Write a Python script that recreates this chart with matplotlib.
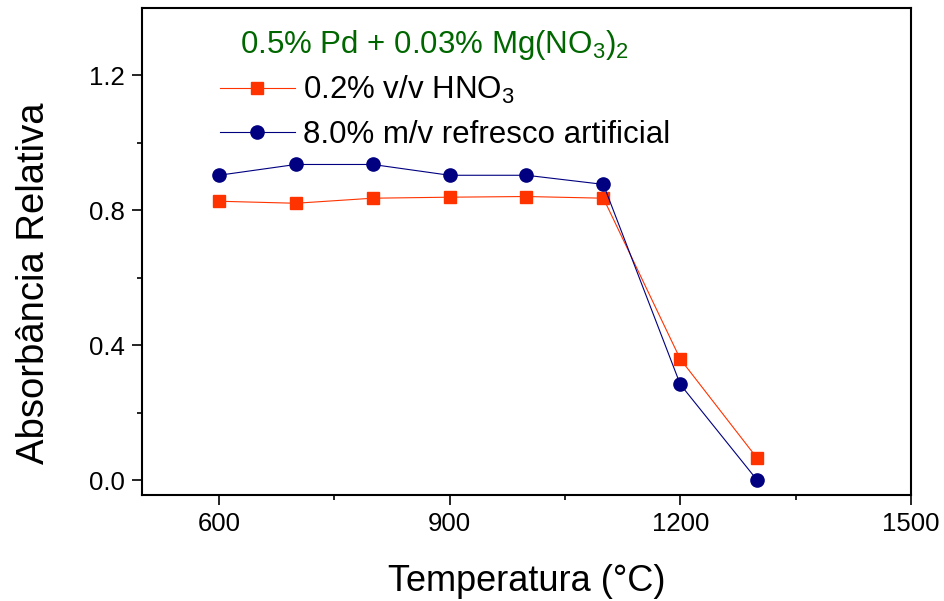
import matplotlib.pyplot as plt

plt.rcParams['font.family'] = ['Liberation Sans', 'DejaVu Sans']
plt.rcParams['mathtext.fontset'] = 'custom'
plt.rcParams['mathtext.rm'] = 'Liberation Sans'
plt.rcParams['mathtext.it'] = 'Liberation Sans'

# data
temps = [600, 700, 800, 900, 1000, 1100, 1200, 1300]
hno3 = [0.827, 0.821, 0.836, 0.839, 0.841, 0.836, 0.359, 0.065]
refresco = [0.904, 0.936, 0.936, 0.904, 0.904, 0.877, 0.284, 0.0]

fig = plt.figure(figsize=(9.44, 6.01), dpi=100)
ax = fig.add_axes([0.1504, 0.1764, 0.8146, 0.8103])

ax.plot(temps, hno3, color='#FF3300', marker='s', markersize=8.5, linewidth=0.8,
        label=r'0.2% v/v HNO$_3$')
ax.plot(temps, refresco, color='#000080', marker='o', markersize=9.5, linewidth=0.8,
        label='8.0% m/v refresco artificial')

ax.set_xlim(500, 1500)
ax.set_ylim(-0.044, 1.4)
ax.set_xticks([600, 900, 1200, 1500])
ax.set_xticks([750, 1050, 1350], minor=True)
ax.set_yticks([0.0, 0.4, 0.8, 1.2])
ax.set_yticks([0.2, 0.6, 1.0], minor=True)
ax.set_yticklabels(['0.0', '0.4', '0.8', '1.2'])

for s in ['top', 'bottom', 'left', 'right']:
    ax.spines[s].set_linewidth(1.5)
ax.tick_params(which='major', direction='out', length=7.2, width=1.2, labelsize=18.5, pad=5)
ax.tick_params(which='minor', direction='out', length=3.6, width=1.2)

ax.set_xlabel('Temperatura (°C)', fontsize=26, labelpad=20)
ax.set_ylabel('Absorbância Relativa', fontsize=27.5)
ax.yaxis.set_label_coords(-0.117, 0.435)

ax.text(0.38, 0.924, r'0.5% Pd + 0.03% Mg(NO$_3$)$_2$', transform=ax.transAxes,
        color='#006600', fontsize=22.5, ha='center', va='center')

ax.legend(loc='upper left', bbox_to_anchor=(0.085, 0.89), frameon=False,
          fontsize=22.5, handlelength=2.4, handletextpad=0.26, labelspacing=0.45,
          borderaxespad=0)

plt.savefig('out.png', dpi=100)
